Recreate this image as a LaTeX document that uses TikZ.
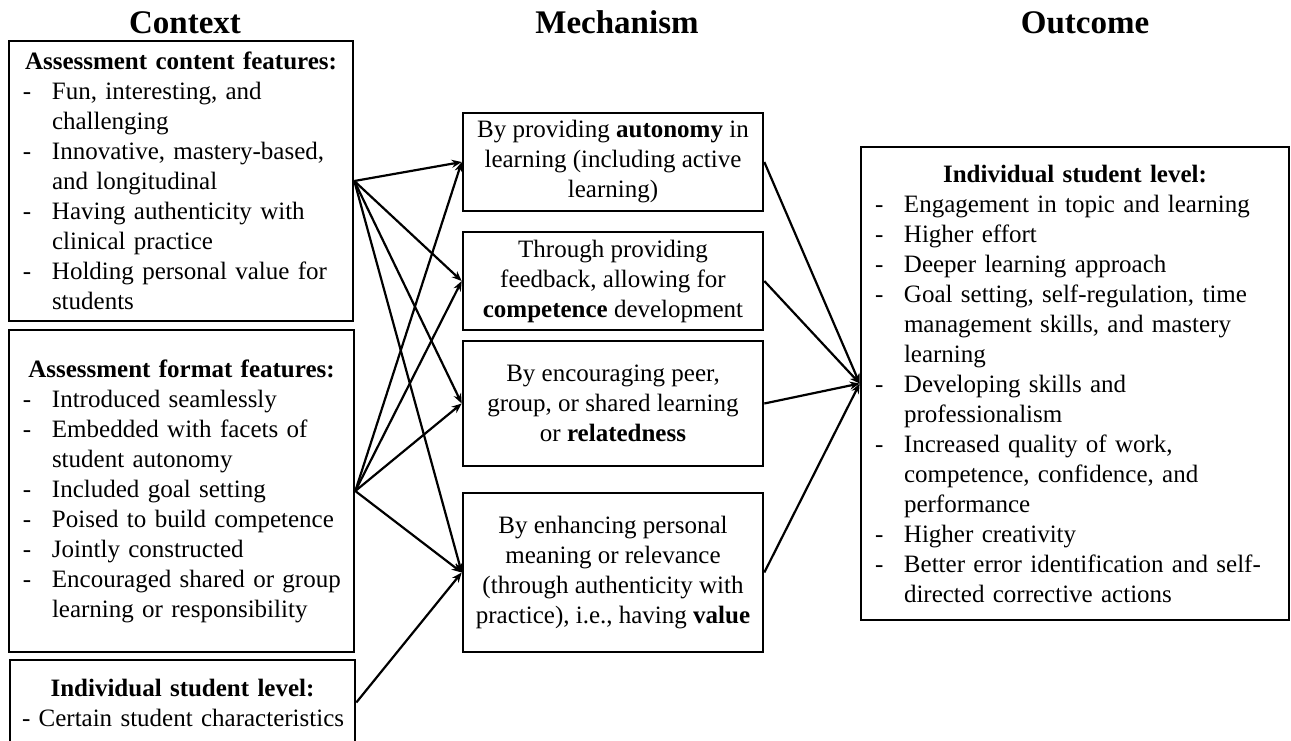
\documentclass[tikz,border=0pt]{standalone}
\usepackage{fontspec}
\setmainfont{Liberation Serif}
\usetikzlibrary{arrows.meta,positioning}
\newcommand{\cmohead}[1]{\makebox[\linewidth][c]{\textbf{#1}}}
\newcommand{\cmoitem}[1]{\makebox[29pt][l]{-}\mbox{#1}}
\newcommand{\cmocont}[1]{\hspace*{29pt}\mbox{#1}}
\tikzset{
  cmotitle/.style={font=\fontsize{33}{40}\selectfont\bfseries, anchor=base, inner sep=0pt},
  cmolist/.style={draw, line width=2.6pt, align=left, inner xsep=14pt, inner ysep=0pt, font=\fontsize{25}{30}\selectfont},
  cmomech/.style={draw, line width=2.6pt, align=center, minimum width=300pt, inner sep=0pt, font=\fontsize{25}{30}\selectfont},
  cmoarr/.style={-{Stealth[length=10pt,width=8pt]}, line width=2.2pt}
}

\begin{document}
\begin{tikzpicture}[x=1pt, y=-1pt]
  \useasboundingbox (0,0) rectangle (1291,740);
  \clip (0,0) rectangle (1291,740);
  % column titles
  \node[cmotitle] (ctxtitle) at (185,33) {Context};
  \node[cmotitle] (mechtitle) at (617,33) {Mechanism};
  \node[cmotitle] (outtitle) at (1085,33) {Outcome};
  % context
  \node[cmolist, text width=316pt, minimum height=280pt] (content) at (181,181) {\cmohead{Assessment content features:}\\
    \cmoitem{Fun, interesting, and}\\
    \cmocont{challenging}\\
    \cmoitem{Innovative, mastery-based,}\\
    \cmocont{and longitudinal}\\
    \cmoitem{Having authenticity with}\\
    \cmocont{clinical practice}\\
    \cmoitem{Holding personal value for}\\
    \cmocont{students}};
  \node[cmolist, text width=317pt, minimum height=322pt] (format) at (181.5,491) {\cmohead{Assessment format features:}\\
    \cmoitem{Introduced seamlessly}\\
    \cmoitem{Embedded with facets of}\\
    \cmocont{student autonomy}\\
    \cmoitem{Included goal setting}\\
    \cmoitem{Poised to build competence}\\
    \cmoitem{Jointly constructed}\\
    \cmoitem{Encouraged shared or group}\\
    \cmocont{learning or responsibility}};
  \node[cmolist, inner xsep=12pt, text width=321pt, minimum height=85pt] (indiv) at (182.5,702.5) {\cmohead{Individual student level:}\\
    \mbox{- Certain student characteristics}};
  % mechanism
  \node[cmomech, minimum height=98pt] (mecha) at (613,162) {By providing \textbf{autonomy} in\\learning (including active\\learning)};
  \node[cmomech, minimum height=98pt] (mechb) at (613,281) {Through providing\\feedback, allowing for\\\textbf{competence} development};
  \node[cmomech, minimum height=125pt] (mechc) at (613,403.5) {By encouraging peer,\\group, or shared learning\\or \textbf{relatedness}};
  \node[cmomech, minimum height=159pt] (mechd) at (613,572.5) {By enhancing personal\\meaning or relevance\\(through authenticity with\\practice), i.e., having \textbf{value}};
  % outcome
  \node[cmolist, text width=400pt, minimum height=473pt] (outc) at (1075,383.5) {\cmohead{Individual student level:}\\
    \cmoitem{Engagement in topic and learning}\\
    \cmoitem{Higher effort}\\
    \cmoitem{Deeper learning approach}\\
    \cmoitem{Goal setting, self-regulation, time}\\
    \cmocont{management skills, and mastery}\\
    \cmocont{learning}\\
    \cmoitem{Developing skills and}\\
    \cmocont{professionalism}\\
    \cmoitem{Increased quality of work,}\\
    \cmocont{competence, confidence, and}\\
    \cmocont{performance}\\
    \cmoitem{Higher creativity}\\
    \cmoitem{Better error identification and self-}\\
    \cmocont{directed corrective actions}};
  % connectors
  \foreach \src in {content,format}
    \foreach \dst in {mecha,mechb,mechc,mechd}
      \draw[cmoarr] (\src.east) -- (\dst.west);
  \draw[cmoarr] (indiv.east) -- (mechd.west);
  \foreach \m in {mecha,mechb,mechc,mechd}
    \draw[cmoarr] (\m.east) -- (outc.west);
\end{tikzpicture}
\end{document}
